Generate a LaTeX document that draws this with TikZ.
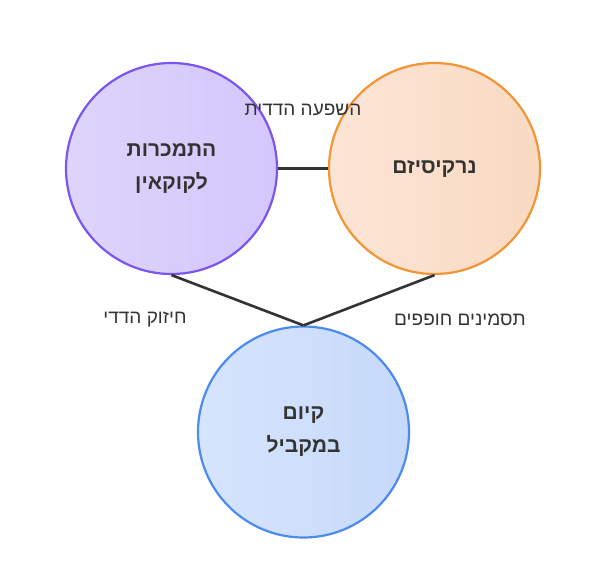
\documentclass[tikz,border=0pt]{standalone}
\usepackage{fontspec}
\setmainfont[Script=Hebrew]{Liberation Sans}
\newfontfamily\hebfont[Script=Hebrew]{Liberation Sans}
\TeXXeTstate=1
\begin{document}
\begin{tikzpicture}[x=1pt,y=-1pt,
  bubble/.style={circle,minimum size=211pt,inner sep=0pt,line width=2.2pt,align=center,
    font=\hebfont\bfseries\fontsize{21}{33}\selectfont,text=black!80},
  lbl/.style={font=\hebfont\fontsize{19}{22}\selectfont,text=black!80},
  link/.style={line width=2.6pt,draw=black!80}]
\useasboundingbox (0,0) rectangle (600,579);
\definecolor{pA}{HTML}{DED4FB}\definecolor{pB}{HTML}{D4C7FC}\definecolor{pD}{HTML}{7A55F0}
\definecolor{oA}{HTML}{FCE5D6}\definecolor{oB}{HTML}{F9DAC2}\definecolor{oD}{HTML}{F29536}
\definecolor{bA}{HTML}{D6E5FD}\definecolor{bB}{HTML}{C7D9FA}\definecolor{bD}{HTML}{4B8BF1}
\node[bubble,draw=pD,left color=pA,right color=pB] (add) at (171.5,168.5) {\beginR התמכרות\endR\\\beginR לקוקאין\endR};
\node[bubble,draw=oD,left color=oA,right color=oB] (nar) at (434.5,168.5) {\beginR נרקיסיזם\endR};
\node[bubble,draw=bD,left color=bA,right color=bB] (co) at (303.5,432) {\beginR קיום\endR\\\beginR במקביל\endR};
\draw[link] (add.east) -- (nar.west);
\coordinate (j) at (co.north);
\draw[link] (add.south) -- (j);
\draw[link] (nar.south) -- (j);
\node[lbl] (l1) at (303,110) {\beginR השפעה הדדית\endR};
\node[lbl] (l2) at (145,320) {\beginR חיזוק הדדי\endR};
\node[lbl] (l3) at (460,320) {\beginR תסמינים חופפים\endR};
\end{tikzpicture}
\end{document}
